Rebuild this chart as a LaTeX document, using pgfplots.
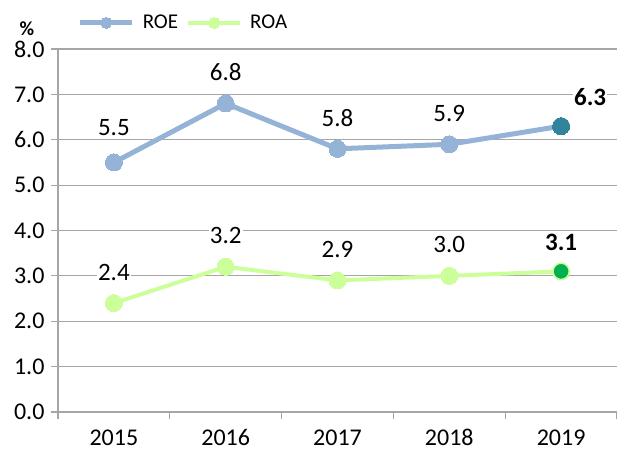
\documentclass[border=0pt]{standalone}
\usepackage{pgfplots}
\pgfplotsset{compat=1.18}
\usepackage{fontspec}
\setmainfont{Carlito}

\definecolor{roeline}{HTML}{95B3D7}
\definecolor{roelast}{HTML}{31849B}
\definecolor{roaline}{HTML}{CCFF99}
\definecolor{roalast}{HTML}{00B050}
\definecolor{gridgray}{HTML}{A6A6A6}

\pgfplotsset{
  lbl/.style={
    nodes near coords={\pgfmathprintnumber[fixed,fixed zerofill,precision=1,assume math mode=true]{\pgfplotspointmeta}},
    point meta=y,
    every node near coord/.append style={anchor=center, yshift=31pt, fill=white, inner sep=1pt, text=black,
      font=\fontsize{25}{30}\selectfont},
  },
}

\begin{document}
\begin{tikzpicture}
\begin{axis}[
    scale only axis,
    width=559pt, height=363pt,
    xmin=-0.5, xmax=4.5,
    ymin=0, ymax=8,
    clip=false,
    axis x line*=bottom,
    axis y line*=left,
    axis line style={gridgray, line width=1.2pt, -},
    xtick={0,1,2,3,4},
    xticklabels={2015,2016,2017,2018,2019},
    major x tick style={draw=none},
    minor xtick={-0.5,0.5,1.5,2.5,3.5,4.5},
    minor x tick style={gridgray, line width=1.2pt},
    minor tick length=7pt,
    ytick={0,1,...,8},
    major tick length=7pt,
    tick align=outside,
    ytick style={gridgray, line width=1.2pt},
    ymajorgrids,
    major grid style={gridgray, line width=1.2pt},
    tick label style={font=\fontsize{24}{28}\selectfont},
    yticklabel style={xshift=-3pt, /pgf/number format/.cd, fixed, fixed zerofill, precision=1, assume math mode=true},
    xticklabel style={yshift=-7pt},
    legend style={at={(axis description cs:0.035,1.072)}, anchor=west, draw=none, fill=none,
      legend columns=2, font=\fontsize{21}{25}\selectfont, column sep=6pt, inner sep=0pt},
    legend cell align=left,
    legend image code/.code={
      \draw[mark repeat=2,mark phase=2,#1,mark size=5.5pt] plot coordinates {(0pt,0pt) (26pt,0pt) (52pt,0pt)};
    },
]
% ROE
\addplot[roeline, line width=5pt, mark=*, mark size=8.5pt, mark options={fill=roeline, draw=roeline, line width=0pt}]
  coordinates {(0,5.5) (1,6.8) (2,5.8) (3,5.9) (4,6.3)};
\addlegendentry{ROE}
% ROA
\addplot[roaline, line width=4pt, mark=*, mark size=8.5pt, mark options={fill=roaline, draw=roaline, line width=0pt}]
  coordinates {(0,2.4) (1,3.2) (2,2.9) (3,3.0) (4,3.1)};
\addlegendentry{ROA}
% last points
\addplot[forget plot, only marks, mark=*, mark size=8.5pt, mark options={fill=roelast, draw=roelast, line width=0pt},
  lbl, every node near coord/.append style={xshift=29pt, yshift=-2pt, font=\bfseries\fontsize{25}{30}\selectfont}]
  coordinates {(4,6.3)};
\addplot[forget plot, only marks, mark=*, mark size=8pt, mark options={fill=roalast, draw=roaline, line width=1.2pt},
  lbl, every node near coord/.append style={yshift=-2pt, font=\bfseries\fontsize{25}{30}\selectfont}]
  coordinates {(4,3.1)};
% labels
\addplot[forget plot, only marks, mark=none, lbl] coordinates {(1,6.8) (2,5.8) (3,5.9)};
\addplot[forget plot, only marks, mark=none, lbl, every node near coord/.append style={yshift=4pt}]
  coordinates {(0,5.5)};
\addplot[forget plot, only marks, mark=none, lbl] coordinates {(0,2.4) (1,3.2) (2,2.9) (3,3.0)};
\node[font=\bfseries\fontsize{20}{24}\selectfont] at (rel axis cs:0,1) [xshift=-31pt, yshift=20pt] {\%};
\end{axis}
\pgfresetboundingbox
\path[use as bounding box] (-58pt,-42pt) rectangle (559pt,412pt);
\end{tikzpicture}
\end{document}
